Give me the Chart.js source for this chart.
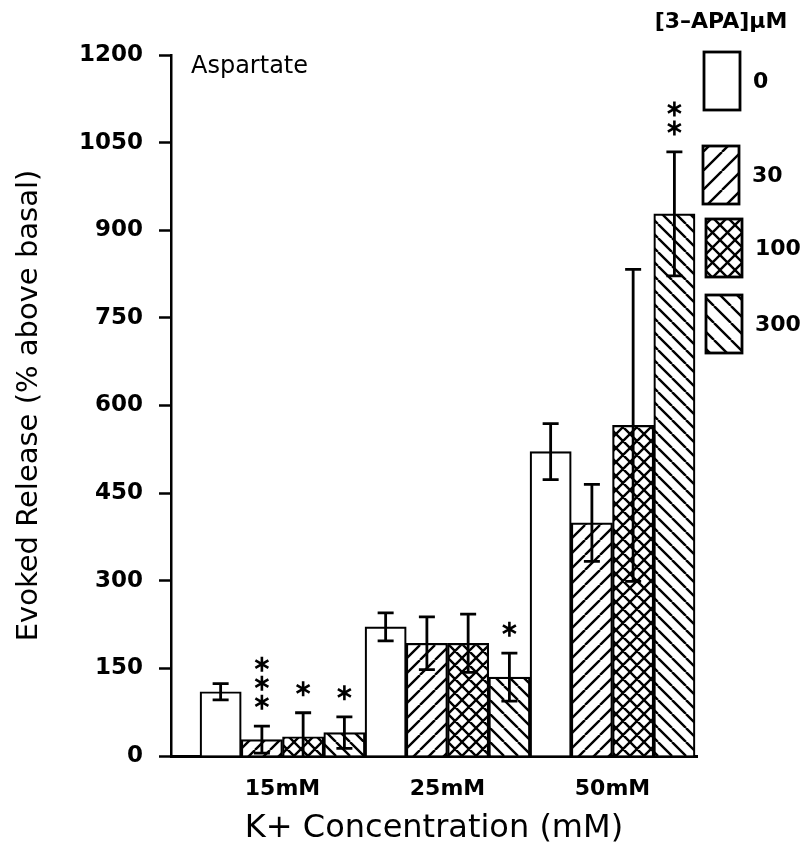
<!DOCTYPE html>
<html>
<head>
<meta charset="utf-8">
<script src="https://cdn.jsdelivr.net/npm/chart.js@4"></script>
<style>
    html, body { margin: 0; padding: 0; background: #fff; }
</style>
</head>
<body>
<canvas id="chart" width="809" height="865"></canvas>
<script>
// K+ concentrations and 3-APA doses
var concentrations = ["15mM", "25mM", "50mM"];
var doses = ["0", "30", "100", "300"];

// evoked release, % above basal
var release0 = [110, 221, 521];
var release30 = [28, 193, 399];
var release100 = [33, 193, 566];
var release300 = [40, 135, 928];

// error bars
var err0 = [14, 24, 48];
var err30 = [23, 45, 66];
var err100 = [41, 50, 267];
var err300 = [27, 41, 106];

// significance marks
var sig0 = ["", "", ""];
var sig30 = ["***", "", ""];
var sig100 = ["*", "", ""];
var sig300 = ["*", "*", "**"];

var yTicks = [0, 150, 300, 450, 600, 750, 900, 1050, 1200];

function hatch(kind, size) {
    var c = document.createElement("canvas");
    c.width = size;
    c.height = size;
    var g = c.getContext("2d");
    g.fillStyle = "#fff";
    g.fillRect(0, 0, size, size);
    g.strokeStyle = "#000";
    g.lineWidth = 2.4;
    g.beginPath();
    for (var k = -size; k <= size; k += size) {
        if (kind === "fwd" || kind === "cross") {
            g.moveTo(k, size);
            g.lineTo(k + size, 0);
        }
        if (kind === "back" || kind === "cross") {
            g.moveTo(k, 0);
            g.lineTo(k + size, size);
        }
    }
    g.stroke();
    return g.createPattern(c, "repeat");
}

var fills = [hatch("none", 14), hatch("fwd", 15), hatch("cross", 14), hatch("back", 14)];
var legendFills = [hatch("none", 18), hatch("fwd", 19), hatch("cross", 15), hatch("back", 17)];

function points(values) {
    return values.map(function (v, i) {
        return { x: i + 1, y: v };
    });
}

function star(ctx, x, y, r) {
    ctx.beginPath();
    for (var a = 0; a < 3; a++) {
        var t = Math.PI / 2 + a * Math.PI / 3;
        ctx.moveTo(x - r * Math.cos(t), y - r * Math.sin(t));
        ctx.lineTo(x + r * Math.cos(t), y + r * Math.sin(t));
    }
    ctx.stroke();
}

var marks = {
    id: "marks",
    afterDatasetsDraw: function (chart) {
        var ctx = chart.ctx;
        var ys = chart.scales.y;
        var area = chart.chartArea;
        ctx.save();
        ctx.strokeStyle = "#000";
        ctx.lineCap = "butt";
        chart.data.datasets.forEach(function (ds, i) {
            chart.getDatasetMeta(i).data.forEach(function (bar, j) {
                var v = ds.data[j].y;
                var e = ds.errors[j];
                var top = ys.getPixelForValue(v + e);
                var low = ys.getPixelForValue(v - e);
                var bottom = Math.min(low, area.bottom);
                ctx.lineWidth = 2.8;
                ctx.beginPath();
                ctx.moveTo(bar.x, top);
                ctx.lineTo(bar.x, bottom);
                ctx.moveTo(bar.x - 8, top);
                ctx.lineTo(bar.x + 8, top);
                if (low < area.bottom) {
                    ctx.moveTo(bar.x - 8, low);
                    ctx.lineTo(bar.x + 8, low);
                }
                ctx.stroke();
                ctx.lineWidth = 2.6;
                for (var s = 0; s < ds.stars[j].length; s++) {
                    star(ctx, bar.x, top - 24 - s * 19, 7.5);
                }
            });
        });
        ctx.restore();
    },
    afterDraw: function (chart) {
        var ctx = chart.ctx;
        ctx.save();
        ctx.fillStyle = "#000";
        ctx.font = "24px 'DejaVu Sans'";
        ctx.textBaseline = "alphabetic";
        ctx.textAlign = "left";
        ctx.fillText("Aspartate", 191, 73);

        ctx.font = "bold 22px 'DejaVu Sans'";
        ctx.textAlign = "center";
        ctx.textBaseline = "middle";
        ctx.fillText("[3\u2013APA]\u03bcM", 721, 22);

        var boxes = [[704, 52], [703, 146], [706, 219], [706, 295]];
        ctx.textAlign = "left";
        chart.data.datasets.forEach(function (ds, i) {
            var bx = boxes[i][0], by = boxes[i][1];
            ctx.fillStyle = legendFills[i];
            ctx.fillRect(bx, by, 36, 58);
            ctx.strokeStyle = "#000";
            ctx.lineWidth = 2.8;
            ctx.strokeRect(bx, by, 36, 58);
            ctx.fillStyle = "#000";
            ctx.fillText(ds.label, bx + 49, by + 30);
        });
        ctx.restore();
    }
};

Chart.defaults.font.family = "'DejaVu Sans'";
Chart.defaults.color = "#000";

var ctx = document.getElementById("chart");
var chart = new Chart(ctx, {
    type: "bar",
    data: {
        datasets: [
            { label: doses[0], data: points(release0), errors: err0, stars: sig0, backgroundColor: fills[0] },
            { label: doses[1], data: points(release30), errors: err30, stars: sig30, backgroundColor: fills[1] },
            { label: doses[2], data: points(release100), errors: err100, stars: sig100, backgroundColor: fills[2] },
            { label: doses[3], data: points(release300), errors: err300, stars: sig300, backgroundColor: fills[3] },
        ],
    },
    options: {
        responsive: false,
        animation: false,
        layout: {
            padding: { left: 0, right: 112, top: 55, bottom: 0 },
        },
        datasets: {
            bar: {
                borderColor: "#000",
                borderWidth: 2.2,
                barPercentage: 1,
                categoryPercentage: 1,
            },
        },
        plugins: {
            legend: { display: false },
            tooltip: { enabled: false },
        },
        scales: {
            x: {
                type: "linear",
                offset: false,
                min: 0.3242,
                max: 3.512,
                afterBuildTicks: function (scale) {
                    scale.ticks = concentrations.map(function (c, i) {
                        return { value: i + 1 };
                    });
                },
                afterFit: function (scale) {
                    scale.height = 109;
                },
                grid: { display: false, drawTicks: false },
                border: { display: true, color: "#000", width: 3 },
                ticks: {
                    autoSkip: false,
                    maxRotation: 0,
                    padding: 20,
                    font: { size: 22, weight: "bold" },
                    callback: function (value) {
                        return concentrations[value - 1];
                    },
                },
                title: {
                    display: true,
                    text: "K+ Concentration (mM)",
                    font: { size: 32 },
                    padding: { top: 0, bottom: 17 },
                },
            },
            y: {
                min: 0,
                max: 1200,
                afterBuildTicks: function (scale) {
                    scale.ticks = yTicks.map(function (v) {
                        return { value: v };
                    });
                },
                afterFit: function (scale) {
                    scale.width = 171;
                },
                grid: {
                    display: true,
                    drawOnChartArea: false,
                    drawTicks: true,
                    tickLength: 12,
                    tickWidth: 2.5,
                    tickColor: "#000",
                },
                border: { display: true, color: "#000", width: 2.5 },
                ticks: {
                    padding: 16,
                    font: { size: 23, weight: "bold" },
                    callback: function (value) {
                        return String(value);
                    },
                },
                title: {
                    display: true,
                    text: "Evoked Release (% above basal)",
                    font: { size: 29 },
                    padding: { top: 12, bottom: 0 },
                },
            },
        },
    },
    plugins: [marks],
});
</script>
</body>
</html>
